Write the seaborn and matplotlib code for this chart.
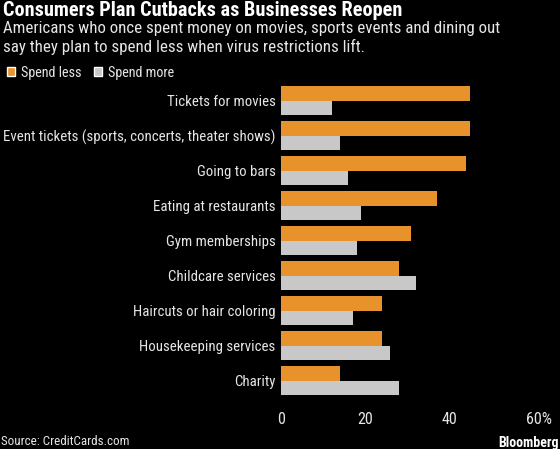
import matplotlib
matplotlib.use("Agg")
import matplotlib.pyplot as plt
import matplotlib.transforms as mtransforms
from matplotlib import font_manager
from matplotlib.patches import Patch
import pandas as pd
import seaborn as sns

# values (percent of respondents)
categories = [
    "Tickets for movies",
    "Event tickets (sports, concerts, theater shows)",
    "Going to bars",
    "Eating at restaurants",
    "Gym memberships",
    "Childcare services",
    "Haircuts or hair coloring",
    "Housekeeping services",
    "Charity",
]
spend_less = [45, 45, 44, 37, 31, 28, 24, 24, 14]
spend_more = [12, 14, 16, 19, 18, 32, 17, 26, 28]
series_names = ["Spend less", "Spend more"]
x_ticks = [0, 20, 40, 60]
x_ticklabels = ["0", "20", "40", "60%"]

ORANGE = "#E8922C"
GRAY = "#C8C8C8"
BG = "#000000"
TXT = "#E6E6E6"

# narrow sans if one is around, Roboto otherwise
available = {f.name for f in font_manager.fontManager.ttflist}
font = "Roboto"
for cand in ["Roboto Condensed", "PT Sans Narrow", "Liberation Sans Narrow", "Open Sans Condensed"]:
    if cand in available:
        font = cand
        break

df = pd.DataFrame({"category": categories, series_names[0]: spend_less, series_names[1]: spend_more})
df_long = df.melt(id_vars="category", var_name="series", value_name="pct")

sns.set_style("dark")
plt.rcParams["font.family"] = [font, "DejaVu Sans"]

fig = plt.figure(figsize=(5.6, 4.49), dpi=100, facecolor=BG)
ax = fig.add_axes([0.502, 0.113, 0.450, 0.702])
ax.set_facecolor(BG)

sns.barplot(data=df_long, y="category", x="pct", hue="series", order=categories,
            hue_order=series_names, palette=[ORANGE, GRAY], width=0.83,
            orient="h", saturation=1, legend=False, linewidth=0, ax=ax)

ax.set_xlim(0, 60)
ax.set_ylim(len(categories) - 0.5, -0.5)
ax.set_xticks(x_ticks)
ax.set_xticklabels(x_ticklabels)
ax.set_xlabel("")
ax.set_ylabel("")
ax.grid(False)
for s in ax.spines.values():
    s.set_visible(False)
ax.tick_params(axis="x", colors="#BBBBBB", labelcolor=TXT, length=5, width=1,
               direction="out", pad=5, labelsize=11.5)
ax.tick_params(axis="y", length=0, pad=4, labelcolor=TXT, labelsize=10.7)

# the "%" hangs to the right of the last tick
last = ax.get_xticklabels()[-1]
last.set_transform(last.get_transform() + mtransforms.ScaledTranslation(6 / 100, 0, fig.dpi_scale_trans))

fig.text(0.005, 0.977, "Consumers Plan Cutbacks as Businesses Reopen", color="white",
         fontsize=14.6, fontweight="bold", va="center", ha="left")
fig.text(0.005, 0.937, "Americans who once spent money on movies, sports events and dining out",
         color=TXT, fontsize=12.2, va="center", ha="left")
fig.text(0.005, 0.895, "say they plan to spend less when virus restrictions lift.",
         color=TXT, fontsize=12.2, va="center", ha="left")

handles = [Patch(facecolor=ORANGE), Patch(facecolor=GRAY)]
fig.legend(handles, series_names, loc="center left", bbox_to_anchor=(-0.01, 0.838),
           ncol=2, frameon=False, handlelength=0.56, handleheight=0.56,
           handletextpad=0.4, columnspacing=0.9, labelcolor=TXT, fontsize=10.2)

fig.text(0.002, 0.016, "Source: CreditCards.com", color=TXT, fontsize=9.4,
         va="center", ha="left")
fig.text(0.997, 0.014, "Bloomberg", color="white", fontsize=10, fontweight="bold",
         va="center", ha="right")

fig.savefig("out.png", dpi=100, facecolor=BG)
